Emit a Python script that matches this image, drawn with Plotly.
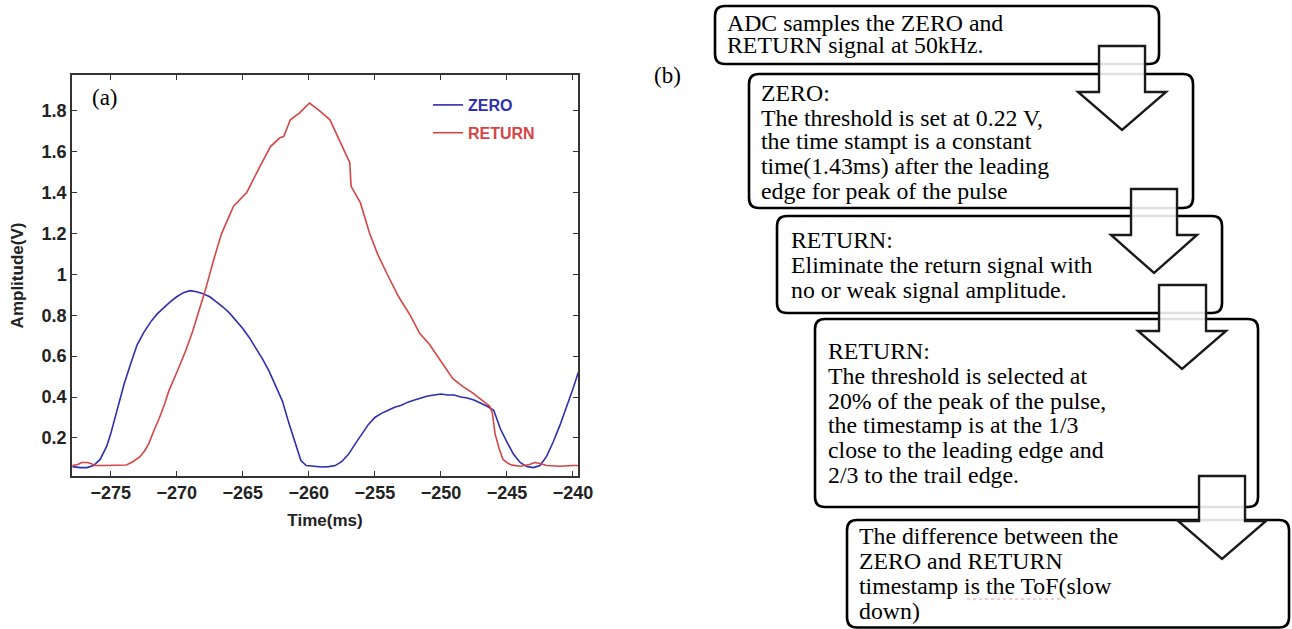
import plotly.graph_objects as go

# The capture shrinks the page horizontally by about 1.15%; positions below are
# given in the picture's pixels and converted back to page pixels.
SX = 0.9885
W, H = 1307, 629

# ---------------- data ----------------
zero_t = [-277.9, -277.3, -276.8, -276.3, -275.8, -275.3, -275.0, -274.5, -274.0, -273.5,
          -273.0, -272.5, -272.0, -271.5, -271.0, -270.5, -270.0, -269.5, -269.0, -268.5,
          -268.0, -267.5, -267.0, -266.5, -266.0, -265.5, -265.0, -264.5, -264.0, -263.5,
          -263.0, -262.5, -262.0, -261.5, -261.0, -260.6, -260.2, -259.5, -259.0, -258.5,
          -258.0, -257.5, -257.0, -256.5, -256.0, -255.5, -255.0, -254.5, -254.0, -253.5,
          -253.0, -252.5, -252.0, -251.5, -251.0, -250.5, -250.0, -249.5, -249.0, -248.5,
          -248.0, -247.5, -247.0, -246.5, -246.0, -245.5, -245.0, -244.5, -244.0, -243.5,
          -243.0, -242.5, -242.0, -241.5, -241.0, -240.5, -240.0, -239.6]
zero_v = [0.060, 0.055, 0.055, 0.065, 0.095, 0.16, 0.22, 0.34, 0.46, 0.56,
          0.655, 0.715, 0.765, 0.805, 0.835, 0.865, 0.89, 0.91, 0.92, 0.915,
          0.905, 0.89, 0.865, 0.84, 0.81, 0.775, 0.735, 0.69, 0.64, 0.585,
          0.525, 0.455, 0.38, 0.27, 0.17, 0.09, 0.065, 0.06, 0.058, 0.06,
          0.065, 0.085, 0.12, 0.17, 0.22, 0.265, 0.30, 0.32, 0.335, 0.35,
          0.36, 0.375, 0.385, 0.395, 0.405, 0.41, 0.415, 0.41, 0.41, 0.40,
          0.395, 0.385, 0.37, 0.355, 0.335, 0.245, 0.18, 0.12, 0.08, 0.06,
          0.055, 0.065, 0.11, 0.18, 0.26, 0.345, 0.44, 0.52]

return_t = [-277.9, -277.5, -277.2, -276.8, -276.5, -276.2, -275.5, -274.5, -273.8, -273.3,
            -272.8, -272.4, -272.1, -271.7, -271.3, -270.9, -270.6, -270.0, -269.3, -268.8,
            -268.3, -267.8, -267.2, -266.6, -265.7, -264.7, -263.7, -262.9, -262.2, -261.9,
            -261.4, -260.7, -259.95, -259.2, -258.4, -257.4, -256.9, -256.8, -256.1, -255.4,
            -254.8, -254.1, -253.2, -252.3, -251.6, -250.9, -250.0, -249.1, -248.3, -247.6,
            -246.9, -246.3, -246.1, -245.9, -245.6, -245.3, -244.9, -244.6, -244.0, -243.3,
            -242.9, -242.5, -242.0, -241.0, -240.0, -239.6]
return_v = [0.065, 0.07, 0.08, 0.08, 0.075, 0.065, 0.065, 0.065, 0.068, 0.085,
            0.107, 0.14, 0.175, 0.24, 0.30, 0.37, 0.43, 0.52, 0.63, 0.72,
            0.82, 0.93, 1.072, 1.20, 1.333, 1.40, 1.527, 1.624, 1.667, 1.673,
            1.755, 1.789, 1.837, 1.80, 1.755, 1.618, 1.545, 1.43, 1.35, 1.20,
            1.10, 1.005, 0.89, 0.797, 0.71, 0.66, 0.575, 0.49, 0.45, 0.42,
            0.385, 0.355, 0.32, 0.22, 0.15, 0.095, 0.075, 0.067, 0.062, 0.07,
            0.08, 0.075, 0.065, 0.062, 0.065, 0.065]

x_ticks = [-275, -270, -265, -260, -255, -250, -245, -240]
y_ticks = [0.2, 0.4, 0.6, 0.8, 1.0, 1.2, 1.4, 1.6, 1.8]
y_tick_text = ["0.2", "0.4", "0.6", "0.8", "1", "1.2", "1.4", "1.6", "1.8"]

steps = [
    ["ADC samples the ZERO and", "RETURN signal at 50kHz."],
    ["ZERO:", "The threshold is set at 0.22 V,", "the time stampt is a constant",
     "time(1.43ms) after the leading", "edge for peak of the pulse"],
    ["RETURN:", "Eliminate the return signal with", "no or weak signal amplitude."],
    ["RETURN:", "The threshold is selected at", "20% of the peak of the pulse,",
     "the timestamp is at the 1/3", "close to the leading edge and", "2/3 to the trail edge."],
    ["The difference between the", "ZERO and RETURN", "timestamp is the ToF(slow", "down)"],
]

BLUE = "#2e2eb0"
RED = "#d64545"

# ---------------- layout helpers (picture pixel -> paper) ----------------
def px(x):
    return (x / SX) / W

def py(y):
    return 1 - y / H

fig = go.Figure()
fig.add_trace(go.Scatter(x=zero_t, y=zero_v, mode="lines",
                         name='<span style="color:%s">ZERO</span>' % BLUE,
                         legendgroup="z", line=dict(color=BLUE, width=1.6)))
fig.add_trace(go.Scatter(x=return_t, y=return_v, mode="lines",
                         name='<span style="color:%s">RETURN</span>' % RED,
                         legendgroup="r", line=dict(color=RED, width=1.6)))

tick_font = dict(family="Liberation Sans, Arial", size=18, color="#222", weight="bold")
title_font = dict(family="Liberation Sans, Arial", size=17, color="#222", weight="bold")
fig.update_xaxes(domain=[px(72), px(578)], range=[-277.93, -239.62],
                 tickvals=x_ticks, ticks="inside", ticklen=5, tickwidth=1.3,
                 tickcolor="#333", showline=True, linecolor="#333", linewidth=1.5,
                 mirror="ticks", showgrid=False, zeroline=False, tickfont=tick_font,
                 title=dict(text="Time(ms)", font=title_font, standoff=12))
fig.update_yaxes(domain=[py(476), py(75)], range=[0.014, 1.974],
                 tickvals=y_ticks, ticktext=y_tick_text, ticks="inside", ticklen=5,
                 tickwidth=1.3, tickcolor="#333", showline=True, linecolor="#333",
                 linewidth=1.5, mirror="ticks", showgrid=False, zeroline=False,
                 tickfont=tick_font,
                 title=dict(text="Amplitude(V)", font=title_font, standoff=14))

shapes = []
annotations = []

# flowchart boxes: (left, top, right, bottom, text_left, baselines)
boxes = [
    (715, 6, 1159, 64, 725, [30, 53]),
    (749, 74, 1193, 208, 759, [100, 125, 149, 174, 198]),
    (777, 216, 1222, 313, 789, [247, 272, 298]),
    (815, 319, 1258, 507, 826, [358, 383, 408, 432, 457, 482]),
    (847, 520, 1289, 627.5, 857, [543, 568, 593, 618]),
]
R = 10
FS = 23.8
for (l, t, r, b, tx, bases), lines in zip(boxes, steps):
    path = (f"M {px(l+R)},{py(t)} L {px(r-R)},{py(t)} Q {px(r)},{py(t)} {px(r)},{py(t+R)} "
            f"L {px(r)},{py(b-R)} Q {px(r)},{py(b)} {px(r-R)},{py(b)} "
            f"L {px(l+R)},{py(b)} Q {px(l)},{py(b)} {px(l)},{py(b-R)} "
            f"L {px(l)},{py(t+R)} Q {px(l)},{py(t)} {px(l+R)},{py(t)} Z")
    shapes.append(dict(type="path", xref="paper", yref="paper", path=path,
                       line=dict(color="black", width=2.6), fillcolor="white", layer="above"))
    for line_text, base in zip(lines, bases):
        annotations.append(dict(x=px(tx), y=py(base - 7.5), xref="paper", yref="paper",
                                text=line_text, showarrow=False, xanchor="left", yanchor="middle",
                                font=dict(family="Liberation Serif, Times New Roman", size=FS,
                                          color="black")))

# block arrows: (shaft left, shaft right, top, wing y, head left, head right, tip x, tip y)
arrows = [
    (1099, 1145, 46, 92, 1078, 1166, 1122, 130),
    (1131, 1177, 189, 235, 1111, 1197, 1154, 273),
    (1159, 1206, 285, 331, 1138, 1226, 1182, 369),
    (1199, 1245, 476, 521, 1178, 1266, 1222, 559),
]
for sl, sr, top, wing, hl, hr, tx, ty in arrows:
    path = (f"M {px(sl)},{py(top)} L {px(sr)},{py(top)} L {px(sr)},{py(wing)} "
            f"L {px(hr)},{py(wing)} L {px(tx)},{py(ty)} L {px(hl)},{py(wing)} "
            f"L {px(sl)},{py(wing)} Z")
    shapes.append(dict(type="path", xref="paper", yref="paper", path=path,
                       line=dict(color="#1a1a1a", width=2.4),
                       fillcolor="rgba(255,255,255,0.88)", layer="above"))

# spell-check underline under "ToF"
shapes.append(dict(type="line", xref="paper", yref="paper", x0=px(967), x1=px(1060),
                   y0=py(599), y1=py(599), line=dict(color="rgba(220,80,80,0.6)", width=1, dash="dot"),
                   layer="above"))

annotations.append(dict(x=px(105), y=py(97), xref="paper", yref="paper", text="(a)",
                        showarrow=False, xanchor="center", yanchor="middle",
                        font=dict(family="Liberation Serif, Times New Roman", size=23, color="black")))
annotations.append(dict(x=px(667), y=py(75), xref="paper", yref="paper", text="(b)",
                        showarrow=False, xanchor="center", yanchor="middle",
                        font=dict(family="Liberation Serif, Times New Roman", size=23, color="black")))

fig.update_layout(
    width=W, height=H, margin=dict(l=0, r=0, t=0, b=0),
    paper_bgcolor="white", plot_bgcolor="white",
    showlegend=True,
    legend=dict(x=px(428), y=py(88), xanchor="left", yanchor="top",
                bgcolor="rgba(0,0,0,0)", tracegroupgap=4,
                font=dict(family="Liberation Sans, Arial", size=16, weight="bold")),
    shapes=shapes, annotations=annotations,
)

fig.write_html("out.html", config={"displayModeBar": False},
               post_script="document.body.style.margin='0';document.body.style.overflow='hidden';")
